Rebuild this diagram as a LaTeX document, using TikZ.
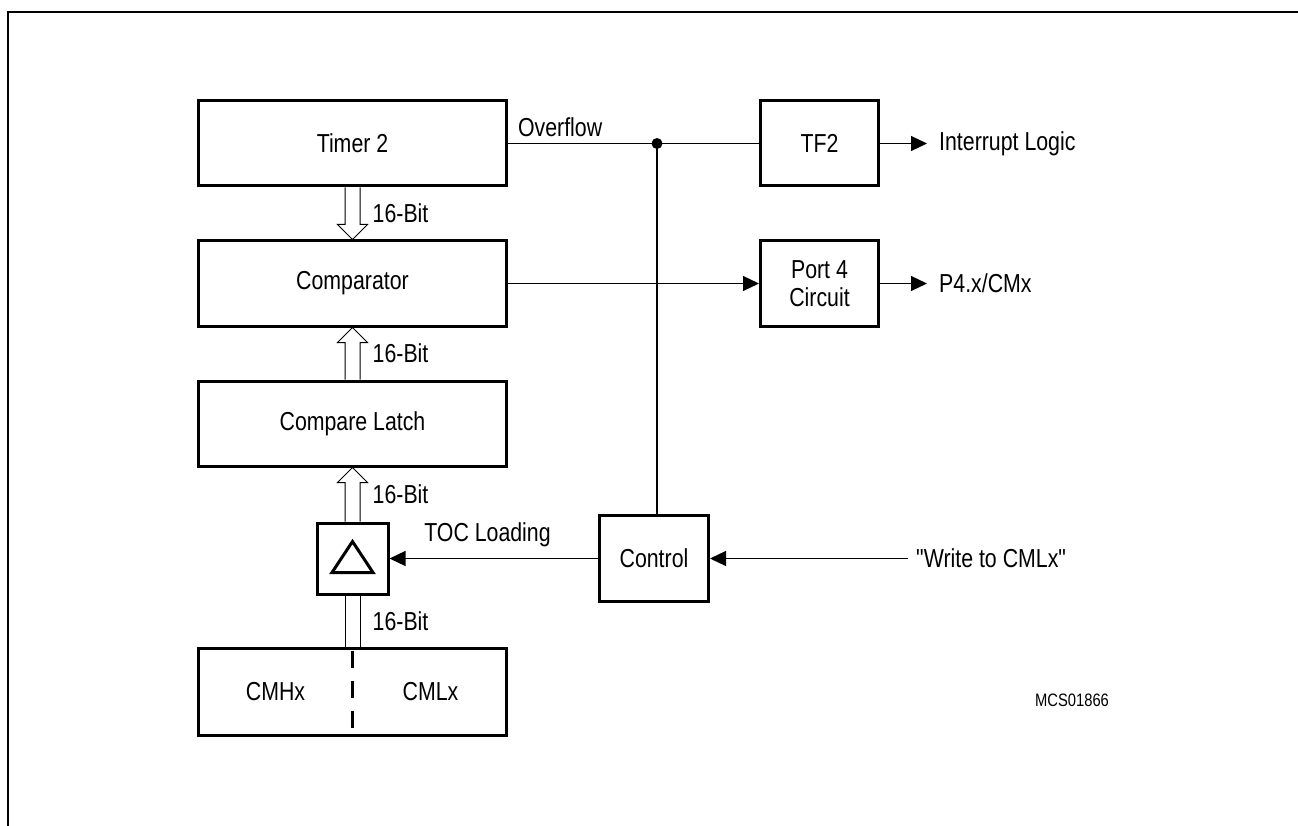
\documentclass[tikz,border=0pt]{standalone}
\usepackage{fontspec}
\newfontfamily\diafont{Liberation Sans}[FakeStretch=0.82]
\usepackage{tikz}
\usetikzlibrary{positioning,arrows.meta,calc}
\newcommand{\busarrow}[2]{%
  \coordinate (bh) at ($(#2)!15pt!(#1)$);
  \draw[bus] ($(#1)!7.5pt!90:(#2)$) -- ($(bh)!7.5pt!90:(#2)$) -- ($(bh)!15pt!90:(#2)$)
    -- (#2) -- ($(bh)!15pt!-90:(#2)$) -- ($(bh)!7.5pt!-90:(#2)$) -- ($(#1)!7.5pt!-90:(#2)$);}
\tikzset{
  blk/.style ={rectangle, draw, line width=3pt, minimum width=308pt, minimum height=85pt,
               font=\diafont\fontsize{26}{28}\selectfont},
  sblk/.style={rectangle, draw, line width=3pt, minimum width=118pt, minimum height=85pt,
               align=center, font=\diafont\fontsize{26}{28}\selectfont},
  lbl/.style ={font=\diafont\fontsize{26}{28}\selectfont, inner sep=3pt},
  outlbl/.style={lbl, inner xsep=12pt},
  sig/.style ={line width=1.2pt},
  arr/.style ={sig, -{Triangle[length=16pt,width=15pt]}},
  bus/.style ={line width=1pt, line join=miter},
}
\begin{document}
\begin{tikzpicture}[x=1pt, y=-1pt]
  \useasboundingbox (0,0) rectangle (1298,826);
  \draw[line width=2pt] (8,826) -- (8,12) -- (1298,12);
  \node[blk] (timer) at (352.5,143.5) {Timer 2};
  \node[blk, below=52pt of timer] (comp) {Comparator};
  \node[blk, below=52pt of comp]  (latch) {Compare Latch};
  \node[rectangle, draw, line width=3pt, minimum size=71pt, below=54pt of latch] (tri) {};
  \node[blk, minimum height=87pt, below=51pt of tri] (cmh) {};
  \node[lbl] (hx) at ($(cmh.center)+(-77,0)$) {CMHx};
  \node[lbl] (lx) at ($(cmh.center)+(78,0)$) {CMLx};
  \node[sblk, minimum width=109pt, minimum height=86pt] (ctrl) at (654,558.5) {Control};
  \node[sblk] (tf2) at (819.5,143.5) {TF2};
  \node[sblk, below=52pt of tf2] (port) {Port 4\\Circuit};
  \node[outlbl, right=47pt of tf2]  (intr) {Interrupt Logic};
  \node[outlbl, right=47pt of port] (pout) {P4.x/CMx};
  \node[lbl, inner xsep=8pt, right=198pt of ctrl] (wr) {"Write to CMLx"};
  \node[font=\diafont\fontsize{18}{20}\selectfont] (mcs) at (1072,700) {MCS01866};
  \coordinate (jn) at (657,143.5);

  \draw[line width=3pt, line join=miter] ($(tri.center)+(0,-17)$) -- ($(tri.center)+(20.5,14)$)
    -- ($(tri.center)+(-20.5,14)$) -- cycle;
  \draw[line width=3pt, dash pattern=on 17pt off 13pt] ($(cmh.north)+(0,4)$) -- ($(cmh.south)+(0,-7)$);

  \busarrow{timer.south}{comp.north}
  \busarrow{latch.north}{comp.south}
  \busarrow{tri.north}{latch.south}
  \draw[bus] ([xshift=-7.5pt]tri.south) -- ([xshift=-7.5pt]tri.south |- cmh.north);
  \draw[bus] ([xshift=7.5pt]tri.south) -- ([xshift=7.5pt]tri.south |- cmh.north);
  \node[lbl, anchor=west] (b1) at ($(timer.south)!.5!(comp.north)+(17,0)$) {16-Bit};
  \node[lbl, anchor=west] (b2) at ($(comp.south)!.5!(latch.north)+(17,0)$) {16-Bit};
  \node[lbl, anchor=west] (b3) at ($(latch.south)!.5!(tri.north)+(17,0)$) {16-Bit};
  \node[lbl, anchor=west] (b4) at ($(tri.south)!.5!(cmh.north)+(17,0)$) {16-Bit};

  \draw[sig] (timer.east) -- node[lbl, above=3pt, pos=0.35] {Overflow} (jn);
  \draw[sig] (jn) -- (tf2.west);
  \fill (jn) circle (5.5pt);
  \draw[sig] (jn) -- (jn |- ctrl.north);
  \draw[arr] (tf2.east) -- (intr.west);
  \draw[arr] (comp.east) -- (port.west);
  \draw[arr] (port.east) -- (pout.west);
  \draw[arr] (ctrl.west) -- node[lbl, above=8pt, pos=0.53] {TOC Loading} (tri.east);
  \draw[arr] (wr.west) -- (ctrl.east);
\end{tikzpicture}
\end{document}
